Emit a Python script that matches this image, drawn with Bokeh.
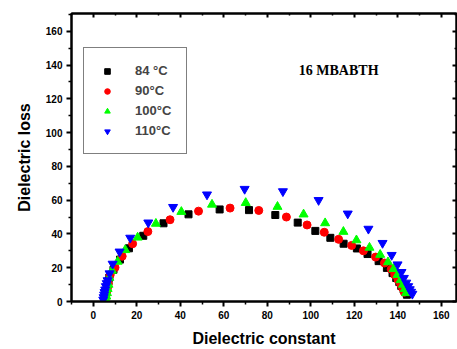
from bokeh.plotting import figure
from bokeh.models import Range1d, LinearAxis, Legend, LegendItem, Label, FixedTicker
from bokeh.embed import file_html
from bokeh.resources import INLINE

# ---------------- data ----------------
x_84 = [5.2, 5.4, 5.6, 5.9, 6.2, 6.6, 7.0, 7.4, 9.3, 12.3, 16.4, 23.0, 32.3, 43.8, 58.1,
        71.6, 83.7, 94.0, 102.1, 109.0, 115.1, 121.2, 126.1, 131.2, 135.0, 137.6, 139.3,
        140.7, 141.6, 142.7, 143.5, 144.2]
y_84 = [1, 2.5, 4, 6, 8, 10, 12, 14.2, 18.8, 24.8, 31.5, 38.9, 46.3, 51.6, 54.5,
        54.1, 51.2, 46.7, 41.8, 37.7, 34.2, 31.4, 28.1, 23.9, 19.9, 16.8, 13.9,
        11.5, 9.2, 7.2, 5.5, 4]

x_90 = [5.5, 5.8, 6.1, 6.5, 6.9, 7.8, 10.0, 13.3, 18.1, 25.1, 35.3, 48.4, 62.9, 76.1,
        88.8, 98.3, 106.2, 112.8, 118.8, 124.2, 129.8, 133.9, 137.0, 138.6, 140.1, 141.3,
        142.2, 143.0]
y_90 = [1.5, 3.5, 5.5, 8, 10.5, 15.8, 20.1, 26.8, 34.2, 41.4, 48.4, 53.5, 55.3, 53.9,
        50.0, 45.3, 41.0, 36.8, 33.2, 30.0, 26.3, 22.8, 19.1, 15.8, 12.9, 10.4,
        8.0, 5.5]

x_100 = [5.8, 6.0, 6.3, 6.6, 7.0, 7.4, 8.6, 11.2, 14.7, 20.4, 28.8, 40.5, 54.6, 70.1,
         84.7, 96.7, 106.6, 115.0, 121.0, 127.0, 131.9, 135.5, 138.1, 139.9, 141.3, 142.4,
         143.2, 143.8]
y_100 = [1, 3, 5, 7.5, 10, 14.1, 18.3, 23.6, 30.5, 37.9, 46.1, 53.1, 57.4, 58.4,
         56.1, 51.6, 46.4, 41.3, 36.3, 31.9, 27.7, 23.3, 19.3, 15.8, 12.7, 10.0,
         7.5, 5]

x_110 = [4.6, 4.8, 5.0, 5.2, 5.5, 5.8, 6.2, 6.6, 7.5, 8.9, 12.1, 17.0, 25.3, 36.7, 52.3,
         69.6, 87.2, 103.6, 117.0, 126.5, 133.0, 137.2, 139.9, 141.7, 142.8, 143.9, 144.8,
         145.5, 146.1, 146.7]
y_110 = [1, 2.5, 4, 5.5, 7, 9, 10.8, 12.5, 16.6, 22.3, 29.5, 37.7, 46.7, 55.9, 63.3,
         66.6, 65.2, 60.0, 52.0, 43.0, 34.6, 27.5, 21.9, 17.4, 13.9, 11.1, 9.0,
         7.2, 5.7, 4.5]

labels = ["84 \u00b0C", "90\u00b0C", "100\u00b0C", "110\u00b0C"]
x_ticks = [0, 20, 40, 60, 80, 100, 120, 140, 160]
y_ticks = [0, 20, 40, 60, 80, 100, 120, 140, 160]
x_title = "Dielectric constant"
y_title = "Dielectric loss"
sample_name = "16 MBABTH"

FONT = "Liberation Sans"

p = figure(width=457, height=349, output_backend="svg", toolbar_location=None,
           x_range=Range1d(-10, 167), y_range=Range1d(0, 170.5),
           min_border_left=71, min_border_right=1, min_border_top=13, min_border_bottom=45)
p.xgrid.visible = False
p.ygrid.visible = False
p.outline_line_color = "black"
p.outline_line_width = 2
p.background_fill_color = "white"
p.border_fill_color = "white"

x_minor = [v + 10 for v in [-20] + x_ticks]
y_minor = [v + 10 for v in y_ticks]

for ax in (p.xaxis[0], p.yaxis[0]):
    ax.axis_line_width = 2
    ax.major_tick_line_width = 2
    ax.minor_tick_line_width = 1.5
    ax.major_tick_out = 5
    ax.major_tick_in = 0
    ax.minor_tick_out = 3
    ax.minor_tick_in = 0
    ax.major_label_text_font = FONT
    ax.major_label_text_font_style = "bold"
    ax.major_label_text_font_size = "10px"
    ax.major_label_text_color = "black"
    ax.axis_label_text_font = FONT
    ax.axis_label_text_font_style = "bold"
    ax.axis_label_text_font_size = "16px"
    ax.axis_label_text_color = "black"

p.xaxis[0].ticker = FixedTicker(ticks=x_ticks, minor_ticks=x_minor)
p.yaxis[0].ticker = FixedTicker(ticks=y_ticks, minor_ticks=y_minor)
p.xaxis[0].axis_label = x_title
p.yaxis[0].axis_label = y_title
p.xaxis[0].major_label_standoff = 4
p.xaxis[0].axis_label_standoff = 8
p.yaxis[0].major_label_standoff = 4
p.yaxis[0].axis_label_standoff = 10

top = LinearAxis(ticker=FixedTicker(ticks=x_ticks, minor_ticks=x_minor))
right = LinearAxis(ticker=FixedTicker(ticks=y_ticks, minor_ticks=y_minor))
for ax, ticks in ((top, x_ticks), (right, y_ticks)):
    ax.axis_line_width = 2
    ax.major_tick_line_width = 2
    ax.minor_tick_line_width = 1.5
    ax.major_tick_out = 0
    ax.major_tick_in = 4
    ax.minor_tick_out = 0
    ax.minor_tick_in = 2
    ax.major_label_text_font_size = "0px"
    ax.major_label_standoff = 0
    ax.major_label_text_alpha = 0
    ax.major_label_overrides = {t: "" for t in ticks}
    ax.major_label_policy = None if False else ax.major_label_policy
p.add_layout(top, "above")
p.add_layout(right, "right")

r84 = p.scatter(x_84, y_84, marker="square", size=7, color="black")
r90 = p.scatter(x_90, y_90, marker="circle", size=8, color="#ff0000")
r100 = p.scatter(x_100, y_100, marker="triangle", size=9, color="#00ff00")
r110 = p.scatter(x_110, y_110, marker="inverted_triangle", size=9, color="#0000ff")

legend = Legend(items=[LegendItem(label=labels[0], renderers=[r84]),
                       LegendItem(label=labels[1], renderers=[r90]),
                       LegendItem(label=labels[2], renderers=[r100]),
                       LegendItem(label=labels[3], renderers=[r110])],
                location=(12, 147))
legend.border_line_color = "black"
legend.border_line_width = 1
legend.background_fill_color = "white"
legend.background_fill_alpha = 1
legend.padding = 15
legend.spacing = 5
legend.glyph_height = 14
legend.glyph_width = 16
legend.label_height = 14
legend.label_standoff = 20
legend.label_text_font = FONT
legend.label_text_font_style = "bold"
legend.label_text_font_size = "13px"
legend.margin = 0
p.add_layout(legend, "center")

p.add_layout(Label(x=94.5, y=137, text=sample_name, text_font="Liberation Serif",
                   text_font_style="bold", text_font_size="14px",
                   text_baseline="middle", text_color="black"))

open("out.html", "w").write(file_html(p, INLINE))
